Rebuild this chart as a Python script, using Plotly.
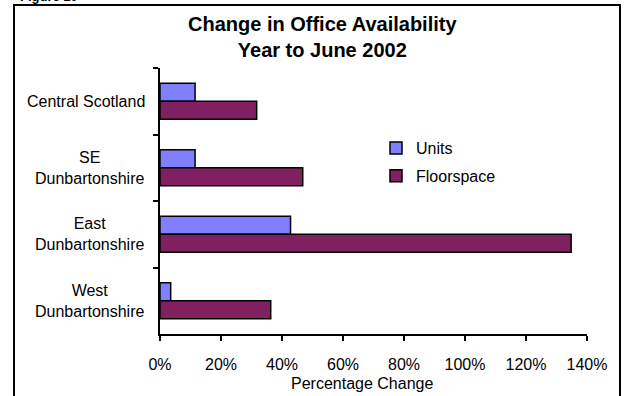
import plotly.graph_objects as go

categories = ["Central Scotland", "SE<br>Dunbartonshire", "East<br>Dunbartonshire", "West<br>Dunbartonshire"]
units = [0.115, 0.115, 0.428, 0.035]
floorspace = [0.317, 0.468, 1.348, 0.363]
series_names = ["Units", "Floorspace"]
x_ticks = [0, 0.2, 0.4, 0.6, 0.8, 1.0, 1.2, 1.4]
x_tick_labels = ["0%", "20%", "40%", "60%", "80%", "100%", "120%", "140%"]

FONT = "Arial, 'Liberation Sans', sans-serif"
W, H = 629, 396
L, R, T, B = 160, 42, 68, 62
pw, ph = W - L - R, H - T - B

def px_x(x):
    return (x - L) / pw

def px_y(y):
    return (H - B - y) / ph

fig = go.Figure()
fig.add_trace(go.Bar(y=categories, x=units, name=series_names[0], orientation="h",
                     marker=dict(color="#8080FF", line=dict(color="black", width=1.5)),
                     legendgroup="a"))
fig.add_trace(go.Bar(y=categories, x=floorspace, name=series_names[1], orientation="h",
                     marker=dict(color="#802060", line=dict(color="black", width=1.5)),
                     legendgroup="b"))

fig.update_layout(
    width=W, height=H,
    margin=dict(l=L, r=R, t=T, b=B),
    paper_bgcolor="white", plot_bgcolor="white",
    font=dict(family=FONT, size=16, color="black"),
    barmode="group", bargap=0.46, bargroupgap=0,
    legend=dict(x=px_x(376), y=px_y(131), xanchor="left", yanchor="top",
                font=dict(size=16, family=FONT), tracegroupgap=4,
                itemwidth=30, bgcolor="rgba(0,0,0,0)"),
    showlegend=True,
)
fig.update_xaxes(range=[0, 1.4], tickvals=x_ticks, ticktext=x_tick_labels,
                 showgrid=False, zeroline=False, showline=True, linecolor="black", linewidth=1.5,
                 ticks="outside", ticklen=5, tickwidth=1.5, tickcolor="black",
                 ticklabelstandoff=10, tickfont=dict(size=16))
fig.update_yaxes(autorange="reversed", showgrid=False, zeroline=False, showline=True,
                 linecolor="black", linewidth=1.5, ticks="outside", ticklen=5, tickwidth=1.5,
                 tickcolor="black", tickson="boundaries", showticklabels=False)

for c in categories:
    fig.add_annotation(x=px_x(147), xref="paper", y=c, yref="y", text=c, showarrow=False,
                       xanchor="right", yanchor="middle", align="center",
                       font=dict(size=16, family=FONT))

fig.add_annotation(x=px_x(322), xref="paper", y=px_y(37), yref="paper",
                   text="<b>Change in Office Availability<br>Year to June 2002</b>",
                   showarrow=False, xanchor="center", yanchor="middle", align="center",
                   font=dict(size=20, family=FONT))

fig.add_annotation(x=px_x(362), xref="paper", y=px_y(383), yref="paper",
                   text="Percentage Change", showarrow=False, xanchor="center", yanchor="middle",
                   font=dict(size=16, family=FONT))

fig.add_annotation(x=px_x(18), xref="paper", y=px_y(-3), yref="paper",
                   text="<b>Figure 10</b>", showarrow=False, xanchor="left", yanchor="middle",
                   font=dict(size=13, family=FONT))

fig.add_shape(type="rect", xref="paper", yref="paper",
              x0=px_x(14), x1=px_x(620), y0=px_y(5), y1=px_y(410),
              line=dict(color="black", width=2), fillcolor="rgba(0,0,0,0)", layer="below")

fig.write_html("out.html")
